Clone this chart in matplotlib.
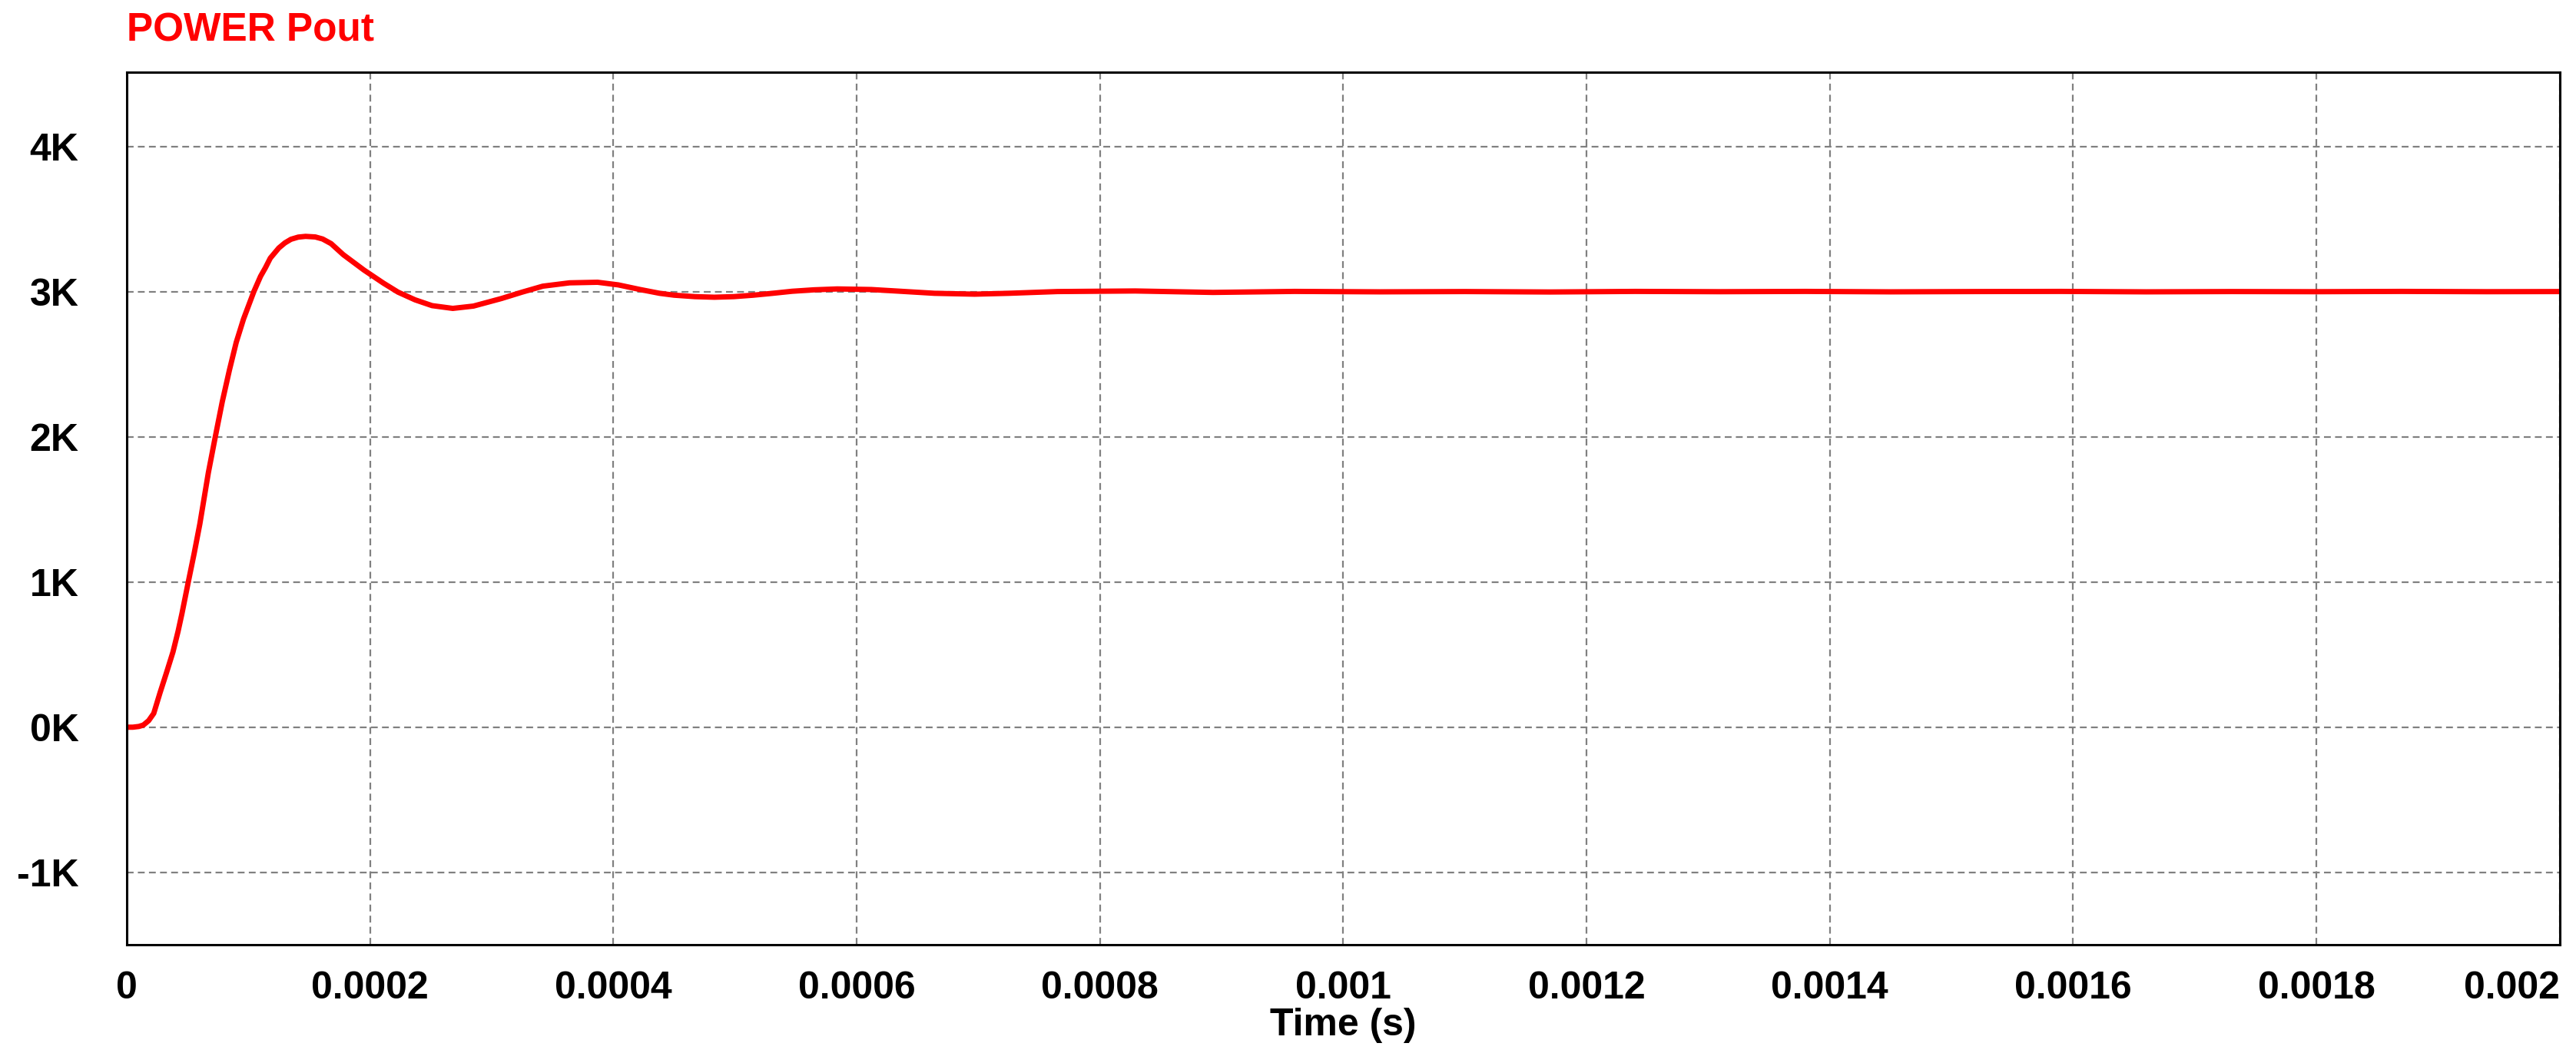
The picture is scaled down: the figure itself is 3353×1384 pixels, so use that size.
import matplotlib
matplotlib.use('Agg')
import matplotlib.pyplot as plt
from matplotlib.ticker import FixedLocator

plt.rcParams['font.family'] = ['Liberation Sans', 'DejaVu Sans']

# 时间 (s) 和 功率 (W)
time_s = [0, 0.000005, 0.00001, 0.0000137, 0.000018, 0.0000222, 0.0000274,
          0.0000327, 0.000038, 0.0000422, 0.0000454, 0.0000506, 0.0000555,
          0.0000601, 0.0000671, 0.0000728, 0.0000785, 0.0000844, 0.00009,
          0.000096, 0.0001045, 0.00011, 0.000114, 0.000118, 0.000125,
          0.00013, 0.000135, 0.000141, 0.000147, 0.000155, 0.000161,
          0.000168, 0.000178, 0.000195, 0.000211, 0.000223,
          0.000237, 0.000251, 0.000268, 0.000285, 0.000308, 0.000325,
          0.000342, 0.000364, 0.000387, 0.000404, 0.000422, 0.000438,
          0.00045, 0.000467, 0.000483, 0.000499, 0.000515, 0.000531,
          0.000547, 0.000565, 0.000584, 0.000612, 0.000636, 0.000664,
          0.000697, 0.000725, 0.000765, 0.000829, 0.000893, 0.00096,
          0.00103, 0.0011, 0.00117, 0.00124, 0.00131, 0.00138, 0.00145,
          0.00152, 0.00159, 0.00166, 0.00173, 0.0018, 0.00187, 0.00194, 0.002]
power_w = [0, 0, 5, 15, 45, 95, 238,
           376, 518, 660, 783, 1000, 1200,
           1400, 1753, 2000, 2240, 2459, 2650,
           2811, 3000, 3105, 3164, 3230, 3300,
           3335, 3360, 3375, 3380, 3376, 3362,
           3330, 3254, 3148, 3058, 2996,
           2943, 2903, 2884, 2900, 2952, 2996,
           3037, 3060, 3064, 3046, 3014, 2988,
           2975, 2965, 2961, 2965, 2975, 2988,
           3002, 3012, 3018, 3014, 3002, 2988,
           2982, 2988, 3000, 3004, 2994, 3001,
           2998, 3000, 2997, 3001, 2999, 3001, 2998,
           3000, 3001, 2998, 3000, 2999, 3001, 2999, 3000]

x_ticks = [0, 0.0002, 0.0004, 0.0006, 0.0008, 0.001, 0.0012, 0.0014, 0.0016, 0.0018, 0.002]
x_labels = ['0', '0.0002', '0.0004', '0.0006', '0.0008', '0.001', '0.0012', '0.0014', '0.0016', '0.0018', '0.002']
y_ticks = [-1000, 0, 1000, 2000, 3000, 4000]
y_labels = ['-1K', '0K', '1K', '2K', '3K', '4K']

fig = plt.figure(figsize=(33.53, 13.84), dpi=100)
ax = fig.add_axes([0.0492, 0.111, 0.9445, 0.821])

ax.plot(time_s, power_w, color='#ff0000', linewidth=5, solid_joinstyle='round')

ax.set_xlim(0, 0.002)
ax.set_ylim(-1500, 4510)
ax.xaxis.set_major_locator(FixedLocator(x_ticks))
ax.yaxis.set_major_locator(FixedLocator(y_ticks))
ax.set_xticklabels(x_labels, fontsize=36, fontweight='bold')
ax.set_yticklabels(y_labels, fontsize=36, fontweight='bold')
ax.get_xticklabels()[-1].set_horizontalalignment('right')
ax.tick_params(axis='both', length=0)
ax.tick_params(axis='x', pad=24)
ax.tick_params(axis='y', pad=45)

ax.grid(True, color='#808080', linestyle=(0, (4, 2.5)), linewidth=1.6)
ax.set_axisbelow(True)
for s in ax.spines.values():
    s.set_color('black')
    s.set_linewidth(2.2)

ax.set_xlabel('Time (s)', fontsize=36, fontweight='bold', labelpad=2)
fig.text(0.0492, 0.971, 'POWER Pout', color='#ff0000', fontsize=37,
         fontweight='bold', ha='left', va='center')

fig.savefig('out.png', dpi=100)
